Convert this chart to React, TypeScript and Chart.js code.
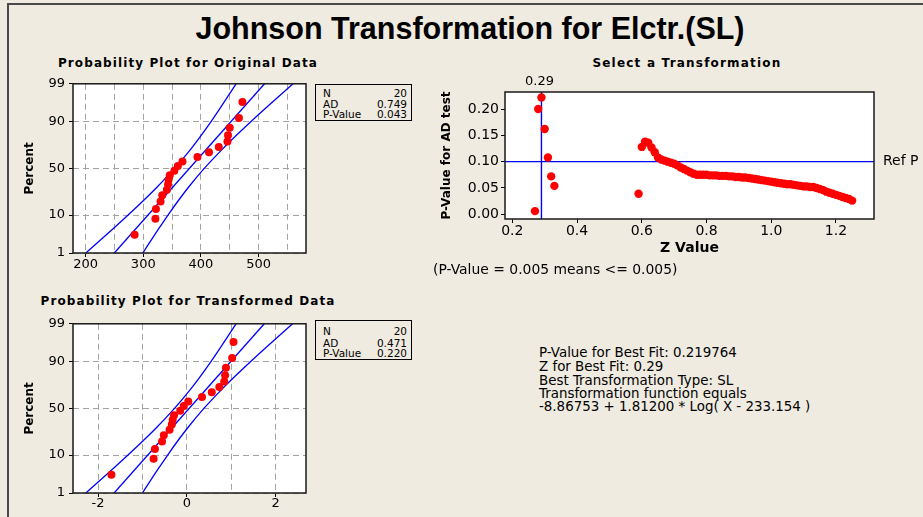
import React, { useEffect, useRef } from "react";
import { Chart, registerables } from "chart.js";

Chart.register(...registerables);

// ---------------- DATA ----------------
// Probability plot, original data (sorted values) and plotting positions (%)
const ORIG_VALUES = [285, 321, 322, 330, 333, 341, 343, 344, 346, 354, 360, 368, 394, 414, 431, 446, 447, 450, 466, 472];
const TRANS_VALUES = [-1.7, -0.75, -0.72, -0.56, -0.52, -0.39, -0.34, -0.32, -0.29, -0.15, -0.07, 0.03, 0.34, 0.56, 0.73, 0.84, 0.86, 0.88, 1.02, 1.05];
const PLOT_PERCENTS = [3.4, 8.3, 13.2, 18.1, 23.0, 27.9, 32.8, 37.7, 42.6, 47.5, 52.5, 57.4, 62.3, 67.2, 72.1, 77.0, 81.9, 86.8, 91.7, 96.6];

// Fitted line and 95% confidence bands, read at these percent levels
const BAND_PERCENTS = [1, 5, 10, 20, 30, 50, 70, 80, 90, 95, 99];
const FIT_PERCENTS = [1, 99];
const ORIG_LOWER = [200.4, 248.6, 273.7, 303.1, 323.3, 354.4, 382.1, 397.3, 417.3, 432.8, 461.0];
const ORIG_FIT = [249.8, 510.4];
const ORIG_UPPER = [299.2, 327.4, 342.9, 362.9, 378.1, 405.8, 436.9, 457.1, 486.5, 511.6, 559.8];
const TRANS_LOWER = [-2.276, -1.652, -1.327, -0.945, -0.682, -0.279, 0.08, 0.279, 0.537, 0.74, 1.106];
const TRANS_FIT = [-1.639, 1.743];
const TRANS_UPPER = [-1.002, -0.636, -0.433, -0.175, 0.024, 0.383, 0.786, 1.049, 1.431, 1.756, 2.38];

// Percent axis
const PCT_TICKS = [1, 10, 50, 90, 99];
const ORIG_X_GRID = [200, 250, 300, 350, 400, 450, 500, 550];
const ORIG_X_LABELS = [200, 300, 400, 500];
const TRANS_X_GRID = [-2, -1, 0, 1, 2];
const TRANS_X_LABELS = [-2, 0, 2];

// Select a Transformation: Z value vs P-value of AD test
const Z_LOW = [0.27, 0.28, 0.29, 0.3, 0.31, 0.32, 0.33];
const P_LOW = [0.006, 0.2, 0.222, 0.162, 0.108, 0.072, 0.054];
const Z_HIGH = [
  0.59, 0.6, 0.61, 0.62, 0.63, 0.64, 0.65, 0.66, 0.67, 0.68, 0.69, 0.7, 0.71, 0.72, 0.73, 0.74, 0.75, 0.76, 0.77, 0.78,
  0.79, 0.8, 0.81, 0.82, 0.83, 0.84, 0.85, 0.86, 0.87, 0.88, 0.89, 0.9, 0.91, 0.92, 0.93, 0.94, 0.95, 0.96, 0.97, 0.98,
  0.99, 1.0, 1.01, 1.02, 1.03, 1.04, 1.05, 1.06, 1.07, 1.08, 1.09, 1.1, 1.11, 1.12, 1.13, 1.14, 1.15, 1.16, 1.17, 1.18,
  1.19, 1.2, 1.21, 1.22, 1.23, 1.24, 1.25,
];
const P_HIGH = [
  0.039, 0.128, 0.138, 0.136, 0.127, 0.118, 0.108, 0.104, 0.102, 0.1, 0.098, 0.096, 0.093, 0.089, 0.086, 0.083, 0.08, 0.077, 0.075, 0.075,
  0.075, 0.075, 0.074, 0.074, 0.074, 0.073, 0.073, 0.073, 0.072, 0.072, 0.071, 0.071, 0.07, 0.07, 0.069, 0.068, 0.067, 0.066, 0.065, 0.064,
  0.063, 0.062, 0.061, 0.06, 0.059, 0.058, 0.057, 0.057, 0.056, 0.055, 0.054, 0.053, 0.053, 0.052, 0.052, 0.05, 0.048, 0.046, 0.043, 0.041,
  0.039, 0.037, 0.035, 0.033, 0.031, 0.029, 0.026,
];
const REF_Z = 0.29;
const REF_Z_LABEL = "0.29";
const REF_P = 0.1;
const B_X_TICKS = [0.2, 0.4, 0.6, 0.8, 1.0, 1.2];
const B_Y_TICKS = [0, 0.05, 0.1, 0.15, 0.2];
const B_X_RANGE = [0.1774, 1.3174];
const B_Y_RANGE = [-0.0089, 0.2323];
const ORIG_X_RANGE = [178.1, 582.3];
const TRANS_X_RANGE = [-2.565, 2.682];

// ---------------- HELPERS ----------------
function invNorm(p: number): number {
  const a = [-39.69683028665376, 220.9460984245205, -275.9285104469687, 138.357751867269, -30.66479806614716, 2.506628277459239];
  const b = [-54.47609879822406, 161.5858368580409, -155.6989798598866, 66.80131188771972, -13.28068155288572];
  const c = [-0.007784894002430293, -0.3223964580411365, -2.400758277161838, -2.549732539343734, 4.374664141464968, 2.938163982698783];
  const d = [0.007784695709041462, 0.3224671290700398, 2.445134137142996, 3.754408661907416];
  const pl = 0.02425;
  if (p < pl) {
    const q = Math.sqrt(-2 * Math.log(p));
    return (((((c[0] * q + c[1]) * q + c[2]) * q + c[3]) * q + c[4]) * q + c[5]) / ((((d[0] * q + d[1]) * q + d[2]) * q + d[3]) * q + 1);
  }
  if (p > 1 - pl) {
    const q = Math.sqrt(-2 * Math.log(1 - p));
    return -(((((c[0] * q + c[1]) * q + c[2]) * q + c[3]) * q + c[4]) * q + c[5]) / ((((d[0] * q + d[1]) * q + d[2]) * q + d[3]) * q + 1);
  }
  const q = p - 0.5;
  const r = q * q;
  return ((((((a[0] * r + a[1]) * r + a[2]) * r + a[3]) * r + a[4]) * r + a[5]) * q) / (((((b[0] * r + b[1]) * r + b[2]) * r + b[3]) * r + b[4]) * r + 1);
}
const pz = (pct: number) => invNorm(pct / 100);

const RED = "#ff0000";
const BLUE = "#0000ff";
const BG = "#efebe1";
const FONT = "DejaVu Sans";

const framePlugin = {
  id: "frameBg",
  beforeDraw(chart: any) {
    const { ctx, chartArea: a } = chart;
    ctx.save();
    ctx.fillStyle = "#ffffff";
    ctx.fillRect(a.left, a.top, a.right - a.left, a.bottom - a.top);
    ctx.restore();
  },
  afterDraw(chart: any) {
    const { ctx, chartArea: a } = chart;
    ctx.save();
    ctx.strokeStyle = "#1a1a1a";
    ctx.lineWidth = 1.5;
    ctx.strokeRect(a.left, a.top, a.right - a.left, a.bottom - a.top);
    ctx.restore();
  },
};

function probConfig(opts: {
  values: number[];
  lower: number[];
  fit: number[];
  upper: number[];
  xRange: number[];
  xGrid: number[];
  xLabels: number[];
  xHeight: number;
  xPad: number;
}): any {
  const zMin = pz(PCT_TICKS[0]);
  const zMax = pz(PCT_TICKS[PCT_TICKS.length - 1]);
  const pts = opts.values.map((v, i) => ({ x: v, y: pz(PLOT_PERCENTS[i]) }));
  const band = (arr: number[]) => arr.map((v, i) => ({ x: v, y: pz(BAND_PERCENTS[i]) }));
  const fit = opts.fit.map((v, i) => ({ x: v, y: pz(FIT_PERCENTS[i]) }));
  const lineDs = (data: any[]) => ({
    data,
    showLine: true,
    borderColor: BLUE,
    borderWidth: 1.3,
    pointRadius: 0,
    cubicInterpolationMode: "monotone",
  });
  return {
    type: "scatter",
    data: {
      datasets: [
        { data: pts, pointRadius: 4, backgroundColor: RED, borderColor: RED, borderWidth: 0 },
        lineDs(band(opts.lower)),
        lineDs(fit),
        lineDs(band(opts.upper)),
      ],
    },
    options: {
      animation: false,
      responsive: false,
      maintainAspectRatio: false,
      events: [],
      layout: { padding: { top: 10, right: 3, left: 0, bottom: 0 } },
      plugins: { legend: { display: false }, tooltip: { enabled: false } },
      scales: {
        x: {
          type: "linear",
          min: opts.xRange[0],
          max: opts.xRange[1],
          afterBuildTicks: (s: any) => {
            s.ticks = opts.xGrid.map((v) => ({ value: v }));
          },
          ticks: {
            autoSkip: false,
            maxRotation: 0,
            padding: opts.xPad,
            color: "#000",
            font: { family: FONT, size: 13 },
            callback: (v: number) => (opts.xLabels.includes(v) ? String(v) : ""),
          },
          grid: {
            color: "#a3a3a3",
            lineWidth: 1,
            tickLength: 4,
            tickBorderDash: [],
            tickColor: (ctx: any) => (ctx.tick && opts.xLabels.includes(ctx.tick.value) ? "#000" : "rgba(0,0,0,0)"),
          },
          border: { display: false, dash: [6, 4] },
          afterFit: (s: any) => {
            s.height = opts.xHeight;
          },
        },
        y: {
          type: "linear",
          min: zMin,
          max: zMax,
          afterBuildTicks: (s: any) => {
            s.ticks = PCT_TICKS.map((p) => ({ value: pz(p) }));
          },
          ticks: {
            autoSkip: false,
            padding: 4,
            color: "#000",
            font: { family: FONT, size: 13 },
            callback: (_v: number, i: number) => String(PCT_TICKS[i]),
          },
          grid: { color: "#a3a3a3", lineWidth: 1, tickLength: 4, tickBorderDash: [], tickColor: "#000" },
          border: { display: false, dash: [6, 4] },
          title: {
            display: true,
            text: "Percent",
            color: "#000",
            font: { family: FONT, size: 12, weight: "bold" },
            padding: { top: 12.8, bottom: 0 },
          },
          afterFit: (s: any) => {
            s.width = 63;
          },
        },
      },
    },
    plugins: [framePlugin],
  };
}

function selectConfig(): any {
  const pts = [
    ...Z_LOW.map((z, i) => ({ x: z, y: P_LOW[i] })),
    ...Z_HIGH.map((z, i) => ({ x: z, y: P_HIGH[i] })),
  ];
  const annot = {
    id: "annotB",
    afterDraw(chart: any) {
      const { ctx, chartArea, scales } = chart;
      ctx.save();
      ctx.fillStyle = "#000";
      ctx.textBaseline = "middle";
      ctx.textAlign = "center";
      ctx.font = `13px "${FONT}"`;
      ctx.fillText(REF_Z_LABEL, scales.x.getPixelForValue(REF_Z) - 2, chartArea.top - 10);
      ctx.textAlign = "left";
      ctx.font = `14px "${FONT}"`;
      ctx.fillText("Ref P", chartArea.right + 9, scales.y.getPixelForValue(REF_P));
      ctx.restore();
    },
  };
  return {
    type: "scatter",
    data: {
      datasets: [
        { data: pts, pointRadius: 4.2, backgroundColor: RED, borderColor: RED, borderWidth: 0 },
        {
          data: [
            { x: REF_Z, y: B_Y_RANGE[0] },
            { x: REF_Z, y: B_Y_RANGE[1] },
          ],
          showLine: true,
          borderColor: BLUE,
          borderWidth: 1.4,
          pointRadius: 0,
        },
        {
          data: [
            { x: B_X_RANGE[0], y: REF_P },
            { x: B_X_RANGE[1], y: REF_P },
          ],
          showLine: true,
          borderColor: BLUE,
          borderWidth: 1.4,
          pointRadius: 0,
        },
      ],
    },
    options: {
      animation: false,
      responsive: false,
      maintainAspectRatio: false,
      events: [],
      layout: { padding: { top: 20, right: 49, left: 0, bottom: 0 } },
      plugins: { legend: { display: false }, tooltip: { enabled: false } },
      scales: {
        x: {
          type: "linear",
          min: B_X_RANGE[0],
          max: B_X_RANGE[1],
          afterBuildTicks: (s: any) => {
            s.ticks = B_X_TICKS.map((v) => ({ value: v }));
          },
          ticks: {
            autoSkip: false,
            maxRotation: 0,
            padding: 0,
            color: "#000",
            font: { family: FONT, size: 14 },
            callback: (v: number) => v.toFixed(1),
          },
          grid: { drawOnChartArea: false, tickLength: 4, tickColor: "#000" },
          border: { display: false },
          title: {
            display: true,
            text: "Z Value",
            color: "#000",
            font: { family: FONT, size: 14, weight: "bold" },
            padding: { top: 0, bottom: 5.3 },
          },
          afterFit: (s: any) => {
            s.height = 43;
          },
        },
        y: {
          type: "linear",
          min: B_Y_RANGE[0],
          max: B_Y_RANGE[1],
          afterBuildTicks: (s: any) => {
            s.ticks = B_Y_TICKS.map((v) => ({ value: v }));
          },
          ticks: {
            autoSkip: false,
            padding: 2,
            color: "#000",
            font: { family: FONT, size: 14 },
            callback: (v: number) => v.toFixed(2),
          },
          grid: { drawOnChartArea: false, tickLength: 4, tickColor: "#000" },
          border: { display: false },
          title: {
            display: true,
            text: "P-Value for AD test",
            color: "#000",
            font: { family: FONT, size: 12, weight: "bold" },
            padding: { top: 10.1, bottom: 0 },
          },
          afterFit: (s: any) => {
            s.width = 75;
          },
        },
      },
    },
    plugins: [framePlugin, annot],
  };
}

// ---------------- COMPONENTS ----------------
function ChartCanvas(props: { left: number; top: number; width: number; height: number; make: () => any }) {
  const ref = useRef<HTMLCanvasElement | null>(null);
  useEffect(() => {
    if (!ref.current) return;
    const chart = new Chart(ref.current, props.make());
    return () => chart.destroy();
  }, []);
  return (
    <canvas
      ref={ref}
      width={props.width}
      height={props.height}
      style={{ position: "absolute", left: props.left, top: props.top, width: props.width, height: props.height, display: "block" }}
    />
  );
}

function Txt(props: {
  x: number;
  y: number;
  size: number;
  family?: string;
  bold?: boolean;
  align?: "left" | "center" | "right";
  spacing?: number;
  children: React.ReactNode;
}) {
  const { x, y, size, family = FONT, bold = false, align = "left", spacing } = props;
  return (
    <div
      style={{
        position: "absolute",
        left: x,
        top: y - size * 0.485,
        fontFamily: `"${family}"`,
        fontSize: size,
        fontWeight: bold ? "bold" : "normal",
        lineHeight: `${size}px`,
        whiteSpace: "nowrap",
        letterSpacing: spacing,
        color: "#000",
        transform: align === "center" ? "translateX(-50%)" : align === "right" ? "translateX(-100%)" : undefined,
      }}
    >
      {props.children}
    </div>
  );
}

function StatBox(props: { top: number; height: number; rows: number[]; n: string; ad: string; p: string }) {
  const labels = ["N", "AD", "P-Value"];
  const vals = [props.n, props.ad, props.p];
  return (
    <>
      <div
        style={{
          position: "absolute",
          left: 315,
          top: props.top,
          width: 95,
          height: props.height,
          border: "1px solid #000",
        }}
      />
      {labels.map((l, i) => (
        <Txt key={"l" + i} x={323} y={props.rows[i]} size={10.5}>
          {l}
        </Txt>
      ))}
      {vals.map((v, i) => (
        <Txt key={"v" + i} x={407} y={props.rows[i]} size={10.5} align="right">
          {v}
        </Txt>
      ))}
    </>
  );
}

export default function App() {
  return (
    <div style={{ position: "absolute", left: 0, top: 0, width: 923, height: 517, background: BG, overflow: "hidden" }}>
      <div
        style={{
          position: "absolute",
          left: 7,
          top: 3,
          width: 930,
          height: 530,
          borderLeft: "2px solid #4a4a4a",
          borderTop: "2px solid #4a4a4a",
        }}
      />
      <ChartCanvas
        left={10}
        top={72}
        width={300}
        height={210}
        make={() =>
          probConfig({
            values: ORIG_VALUES,
            lower: ORIG_LOWER,
            fit: ORIG_FIT,
            upper: ORIG_UPPER,
            xRange: ORIG_X_RANGE,
            xGrid: ORIG_X_GRID,
            xLabels: ORIG_X_LABELS,
            xHeight: 29,
            xPad: 0,
          })
        }
      />
      <ChartCanvas
        left={10}
        top={312}
        width={300}
        height={205}
        make={() =>
          probConfig({
            values: TRANS_VALUES,
            lower: TRANS_LOWER,
            fit: TRANS_FIT,
            upper: TRANS_UPPER,
            xRange: TRANS_X_RANGE,
            xGrid: TRANS_X_GRID,
            xLabels: TRANS_X_LABELS,
            xHeight: 24,
            xPad: -1,
          })
        }
      />
      <ChartCanvas left={430} top={72} width={493} height={190} make={selectConfig} />

      <Txt x={470} y={27.8} size={30.5} family="Liberation Sans" bold align="center">
        Johnson Transformation for Elctr.(SL)
      </Txt>
      <Txt x={188} y={63} size={12} bold align="center" spacing={1.1}>
        Probability Plot for Original Data
      </Txt>
      <Txt x={687} y={62.7} size={12} bold align="center" spacing={1.2}>
        Select a Transformation
      </Txt>
      <Txt x={188} y={300.7} size={12} bold align="center" spacing={1.1}>
        Probability Plot for Transformed Data
      </Txt>

      <StatBox top={84} height={35} rows={[92.8, 104.3, 114.5]} n="20" ad="0.749" p="0.043" />
      <StatBox top={320} height={38} rows={[330.8, 342.8, 353.5]} n="20" ad="0.471" p="0.220" />

      <Txt x={433} y={270} size={13.9}>
        (P-Value = 0.005 means &lt;= 0.005)
      </Txt>

      <Txt x={539} y={352.8} size={13.4}>P-Value for Best Fit: 0.219764</Txt>
      <Txt x={539} y={366.2} size={13.4}>Z for Best Fit: 0.29</Txt>
      <Txt x={539} y={380.5} size={13.4}>Best Transformation Type: SL</Txt>
      <Txt x={539} y={393.8} size={13.4}>Transformation function equals</Txt>
      <Txt x={539} y={406.2} size={13.4}>-8.86753 + 1.81200 * Log( X - 233.154 )</Txt>
    </div>
  );
}
